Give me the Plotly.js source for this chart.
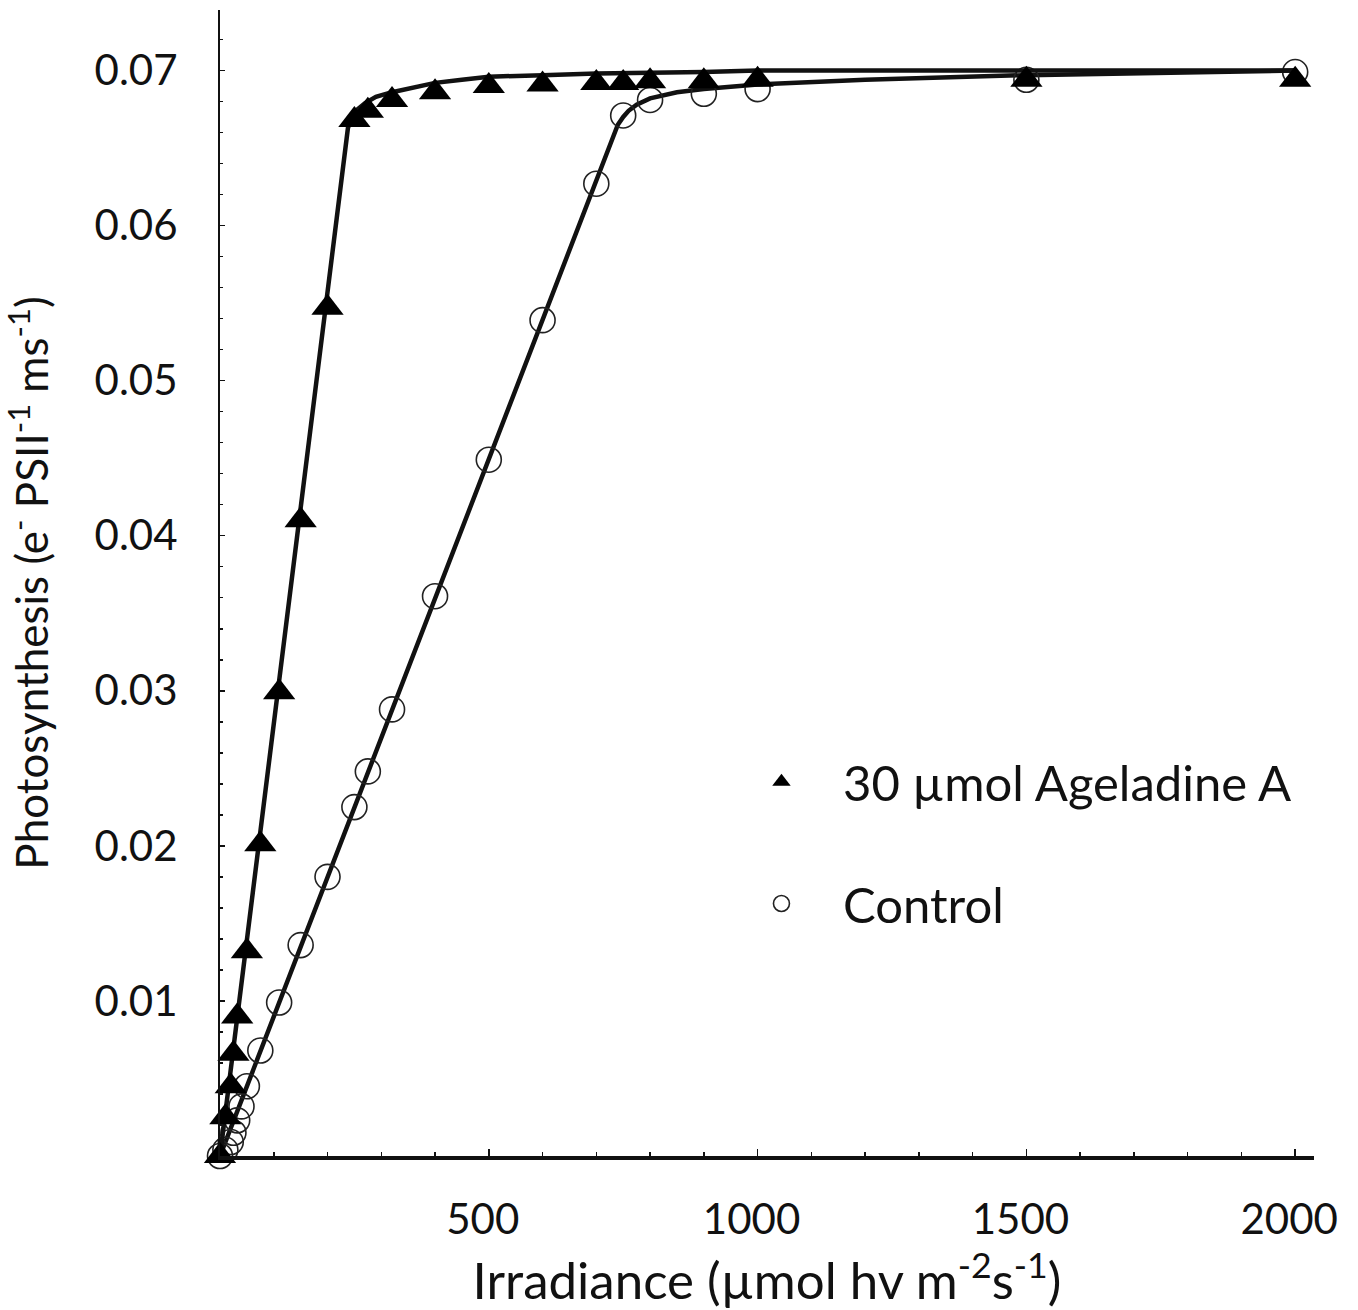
<!DOCTYPE html>
<html>
<head>
<meta charset="utf-8">
<script src="https://cdn.plot.ly/plotly-3.0.1.min.js"></script>
<style>
  html, body { margin: 0; padding: 0; background: #fff; }
  #chart { width: 1358px; height: 1310px; }
</style>
</head>
<body>
<div id="chart"></div>
<script>
// ---- Data ----
// Measured points: 30 µmol Ageladine A (filled triangles)
var irrAgel = [0, 10, 20, 25, 32, 50, 75, 110, 150, 200, 250, 275, 320, 400, 500, 600, 700, 750, 800, 900, 1000, 1500, 2000];
var photoAgel = [0, 0.0025, 0.0045, 0.0066, 0.0090, 0.0132, 0.0201, 0.0299, 0.0410, 0.0547, 0.0668, 0.0674, 0.0681, 0.0686, 0.0690, 0.0691, 0.0692, 0.0692, 0.0693, 0.0693, 0.0694, 0.0694, 0.0694];

// Measured points: Control (open circles)
var irrCtrl = [0, 10, 20, 25, 32, 40, 50, 75, 110, 150, 200, 250, 275, 320, 400, 500, 600, 700, 750, 800, 900, 1000, 1500, 2000];
var photoCtrl = [0, 0.0004, 0.0009, 0.0015, 0.0023, 0.0032, 0.0045, 0.0068, 0.0099, 0.0136, 0.0180, 0.0225, 0.0248, 0.0288, 0.0361, 0.0449, 0.0539, 0.0627, 0.0671, 0.0681, 0.0685, 0.0688, 0.0694, 0.0699];

// Fitted curves
var fitIrrAgel = [0, 100, 200, 238, 246, 256, 270, 290, 320, 360, 400, 450, 500, 600, 700, 900, 1000, 1500, 2000];
var fitPhotoAgel = [0, 0.0279, 0.0558, 0.0663, 0.0670, 0.0675, 0.0679, 0.0683, 0.0686, 0.0689, 0.0692, 0.0694, 0.0696, 0.0697, 0.0698, 0.0699, 0.0700, 0.0700, 0.0700];

var fitIrrCtrl = [0, 500, 700, 740, 750, 760, 775, 800, 850, 900, 1000, 1200, 1500, 2000];
var fitPhotoCtrl = [0, 0.0449, 0.0629, 0.0665, 0.0670, 0.0674, 0.0678, 0.0682, 0.0686, 0.0688, 0.0691, 0.0694, 0.0697, 0.0700];

// Tick labels
var xTickVals = [500, 1000, 1500, 2000];
var xTickText = ['500', '1000', '1500', '2000'];
var yTickVals = [0.01, 0.02, 0.03, 0.04, 0.05, 0.06, 0.07];
var yTickText = ['0.01', '0.02', '0.03', '0.04', '0.05', '0.06', '0.07'];

var seriesNames = ['30 µmol Ageladine A', 'Control'];

// ---- Chart ----
var FONT = 'Lato, "Open Sans", sans-serif';
var INK = '#111111';

var traces = [
  {
    x: fitIrrCtrl, y: fitPhotoCtrl, mode: 'lines', showlegend: false, hoverinfo: 'skip',
    line: { color: INK, width: 4.5 }
  },
  {
    x: irrCtrl, y: photoCtrl, mode: 'markers', name: seriesNames[1],
    legendgroup: 'b', legendrank: 2, cliponaxis: false,
    marker: { symbol: 'circle-open', size: 25, color: '#222222', line: { width: 1.6, color: '#222222' } }
  },
  {
    x: fitIrrAgel, y: fitPhotoAgel, mode: 'lines', showlegend: false, hoverinfo: 'skip',
    line: { color: INK, width: 4.5 }
  },
  {
    x: irrAgel, y: photoAgel, mode: 'markers', name: seriesNames[0],
    legendgroup: 'a', legendrank: 1, cliponaxis: false,
    marker: { symbol: 'triangle-up', size: 28, color: '#000000', line: { width: 0 } }
  }
];

var layout = {
  width: 1358,
  height: 1310,
  margin: { l: 220, r: 44, t: 10, b: 154 },
  paper_bgcolor: '#ffffff',
  plot_bgcolor: '#ffffff',
  font: { family: FONT, color: INK, size: 42 },
  showlegend: true,
  legend: {
    x: 0.457, y: 0.36, xanchor: 'left', yanchor: 'top',
    traceorder: 'grouped', tracegroupgap: 55,
    bgcolor: 'rgba(0,0,0,0)', borderwidth: 0,
    font: { family: FONT, size: 49, color: INK },
    itemwidth: 113
  },
  xaxis: {
    range: [0, 2035],
    showgrid: false, zeroline: false,
    showline: true, linecolor: INK, linewidth: 3.5,
    ticks: 'inside', ticklen: 7, tickwidth: 1.5, tickcolor: INK,
    tickmode: 'array', tickvals: xTickVals, ticktext: xTickText,
    tickfont: { family: FONT, size: 42, color: INK },
    ticklabelstandoff: 24,
    ticklabelshift: -6,
    minor: { dtick: 100, tick0: 0, ticks: 'inside', ticklen: 4, tickwidth: 1.5, tickcolor: INK, showgrid: false },
    title: {
      text: 'Irradiance (µmol hv m<sup>-2</sup>s<sup>-1</sup>)',
      font: { family: FONT, size: 51, color: INK },
      standoff: 18
    }
  },
  yaxis: {
    range: [0, 0.0739],
    showgrid: false, zeroline: false,
    showline: true, linecolor: INK, linewidth: 2,
    ticks: 'inside', ticklen: 5, tickwidth: 1.5, tickcolor: INK,
    tickmode: 'array', tickvals: yTickVals, ticktext: yTickText,
    tickfont: { family: FONT, size: 42, color: INK },
    ticklabelstandoff: 32,
    minor: { dtick: 0.002, tick0: 0, ticks: 'inside', ticklen: 3, tickwidth: 1.5, tickcolor: INK, showgrid: false },
    title: {
      text: 'Photosynthesis (e<sup>-</sup> PSII<sup>-1</sup> ms<sup>-1</sup>)',
      font: { family: FONT, size: 44, color: INK },
      standoff: 34
    }
  }
};

Plotly.newPlot('chart', traces, layout, { displayModeBar: false, staticPlot: true });
</script>
</body>
</html>
